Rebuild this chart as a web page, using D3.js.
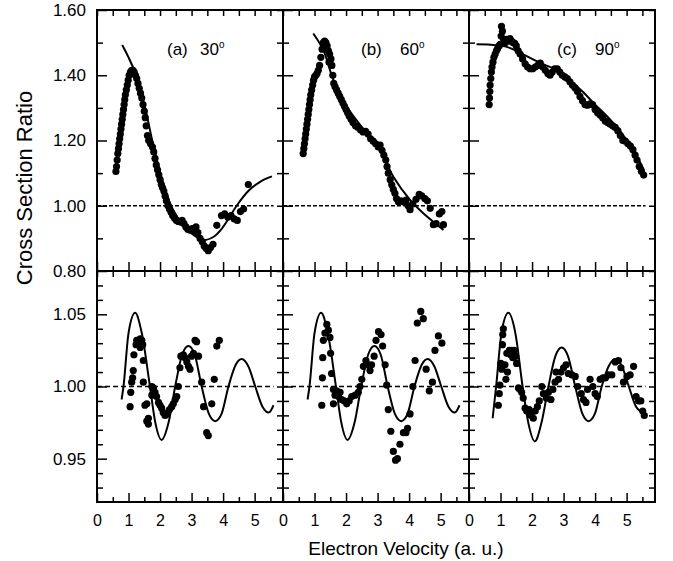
<!DOCTYPE html>
<html>
<head>
<meta charset="utf-8">
<script src="https://d3js.org/d3.v7.min.js"></script>
<style>
  body { margin: 0; background: #fff; }
  svg { display: block; font-family: "Liberation Sans", Arial, Helvetica, sans-serif; }
</style>
</head>
<body>
<div id="chart"></div>
<script>
// ---- DATA ----
const panelNames = ["(a)", "(b)", "(c)"];
const panelAngles = ["30", "60", "90"];

const xTicks = [0, 1, 2, 3, 4, 5];
const xMinorTicks = [0.5, 1.5, 2.5, 3.5, 4.5, 5.5];
const topTicks = [0.80, 1.00, 1.20, 1.40, 1.60];
const topMinorTicks = [0.9, 1.1, 1.3, 1.5];
const bottomTicks = [0.95, 1.00, 1.05];
const bottomMinorTicks = [0.93, 0.94, 0.96, 0.97, 0.98, 0.99, 1.01, 1.02, 1.03, 1.04, 1.06, 1.07];

// top row: measured ratio (dots) and fit (line)
const dotsTopA = [[0.60,1.105],[0.62,1.12],[0.64,1.14],[0.66,1.16],[0.68,1.175],[0.70,1.19],[0.72,1.205],[0.74,1.22],[0.76,1.235],[0.78,1.25],[0.80,1.265],[0.82,1.28],[0.84,1.295],[0.86,1.31],[0.88,1.325],[0.90,1.34],[0.93,1.355],[0.96,1.37],[0.99,1.385],[1.02,1.40],[1.06,1.41],[1.10,1.415],[1.14,1.415],[1.18,1.41],[1.22,1.40],[1.26,1.39],[1.30,1.375],[1.34,1.36],[1.38,1.345],[1.42,1.33],[1.46,1.31],[1.50,1.29],[1.53,1.27],[1.56,1.245],[1.60,1.215],[1.64,1.20],[1.70,1.19],[1.76,1.18],[1.80,1.165],[1.84,1.145],[1.88,1.125],[1.92,1.11],[1.96,1.095],[2.00,1.08],[2.04,1.065],[2.08,1.055],[2.12,1.045],[2.16,1.03],[2.20,1.015],[2.25,1.0],[2.30,0.99],[2.35,0.98],[2.40,0.97],[2.46,0.962],[2.52,0.955],[2.58,0.952],[2.64,0.95],[2.70,0.955],[2.76,0.945],[2.82,0.935],[2.88,0.928],[2.95,0.925],[3.02,0.93],[3.08,0.922],[3.14,0.935],[3.20,0.918],[3.27,0.90],[3.34,0.89],[3.40,0.877],[3.46,0.87],[3.53,0.862],[3.60,0.872],[3.68,0.882],[3.80,0.94],[3.95,0.97],[4.05,0.975],[4.15,0.965],[4.25,0.97],[4.35,0.96],[4.45,0.955],[4.55,0.982],[4.65,0.99],[4.80,1.065]];
const fitTopA = [[0.8,1.493],[1.0,1.455],[1.2,1.41],[1.5,1.31],[1.8,1.18],[2.1,1.07],[2.4,0.99],[2.7,0.945],[3.0,0.915],[3.35,0.895],[3.7,0.905],[4.0,0.935],[4.43,1.0],[4.8,1.045],[5.2,1.075],[5.55,1.09]];

const dotsTopB = [[0.64,1.16],[0.66,1.175],[0.68,1.19],[0.70,1.205],[0.72,1.22],[0.74,1.235],[0.76,1.25],[0.78,1.265],[0.80,1.28],[0.82,1.295],[0.84,1.31],[0.86,1.325],[0.88,1.34],[0.91,1.355],[0.94,1.37],[0.97,1.385],[1.00,1.395],[1.04,1.40],[1.08,1.405],[1.12,1.415],[1.16,1.43],[1.20,1.455],[1.24,1.48],[1.28,1.50],[1.32,1.505],[1.36,1.50],[1.40,1.49],[1.44,1.475],[1.48,1.465],[1.52,1.45],[1.46,1.44],[1.55,1.43],[1.58,1.40],[1.61,1.375],[1.65,1.365],[1.70,1.355],[1.75,1.345],[1.80,1.335],[1.85,1.325],[1.90,1.315],[1.95,1.305],[2.00,1.295],[2.05,1.285],[2.10,1.275],[2.16,1.265],[2.22,1.255],[2.30,1.245],[2.38,1.24],[2.46,1.232],[2.54,1.226],[2.62,1.228],[2.70,1.22],[2.78,1.205],[2.86,1.198],[2.94,1.19],[3.02,1.18],[3.08,1.186],[3.14,1.17],[3.20,1.155],[3.26,1.14],[3.30,1.12],[3.34,1.10],[3.40,1.08],[3.45,1.064],[3.50,1.05],[3.55,1.038],[3.60,1.022],[3.66,1.012],[3.74,1.015],[3.82,1.012],[3.90,1.017],[3.97,1.0],[4.03,0.988],[4.12,1.005],[4.22,1.02],[4.32,1.035],[4.40,1.03],[4.50,1.022],[4.58,1.015],[4.67,0.992],[4.77,0.942],[4.86,0.945],[4.96,0.975],[5.04,0.982],[5.09,0.942]];
const fitTopB = [[0.96,1.528],[1.28,1.477],[1.6,1.385],[2.02,1.304],[2.66,1.222],[3.08,1.171],[3.5,1.089],[4.03,1.018],[4.45,0.977],[5.09,0.926]];

const dotsTopC = [[0.64,1.31],[0.65,1.33],[0.66,1.35],[0.67,1.37],[0.69,1.39],[0.71,1.41],[0.73,1.425],[0.76,1.44],[0.79,1.455],[0.83,1.465],[0.87,1.475],[0.91,1.482],[0.95,1.49],[0.99,1.495],[1.02,1.52],[1.03,1.55],[1.06,1.535],[1.10,1.51],[1.15,1.50],[1.20,1.51],[1.25,1.505],[1.30,1.512],[1.35,1.505],[1.40,1.50],[1.45,1.498],[1.50,1.49],[1.56,1.475],[1.62,1.465],[1.70,1.45],[1.78,1.435],[1.86,1.425],[1.94,1.42],[2.02,1.42],[2.10,1.425],[2.18,1.43],[2.26,1.437],[2.34,1.425],[2.42,1.415],[2.50,1.405],[2.57,1.40],[2.64,1.41],[2.72,1.42],[2.80,1.42],[2.88,1.41],[2.96,1.40],[3.04,1.395],[3.12,1.39],[3.20,1.38],[3.28,1.37],[3.36,1.362],[3.44,1.35],[3.52,1.335],[3.60,1.322],[3.68,1.31],[3.76,1.308],[3.84,1.312],[3.92,1.31],[4.00,1.295],[4.08,1.285],[4.16,1.278],[4.24,1.27],[4.32,1.26],[4.40,1.255],[4.48,1.25],[4.56,1.245],[4.64,1.24],[4.72,1.23],[4.80,1.215],[4.88,1.20],[4.96,1.198],[5.04,1.19],[5.12,1.183],[5.20,1.172],[5.27,1.155],[5.33,1.14],[5.40,1.12],[5.47,1.105],[5.54,1.094]];
const fitTopC = [[0.24,1.495],[0.6,1.494],[1.0,1.49],[1.2,1.487],[1.6,1.47],[2.0,1.45],[2.4,1.432],[2.8,1.415],[3.2,1.385],[3.6,1.35],[4.0,1.31],[4.4,1.272],[4.8,1.228],[5.2,1.172],[5.55,1.11]];

// bottom row: oscillating part (dots) and fit (line)
const dotsBottomA = [[1.05,0.986],[1.07,0.996],[1.10,1.003],[1.13,1.006],[1.15,1.011],[1.17,1.022],[1.24,1.029],[1.26,1.032],[1.31,1.030],[1.37,1.033],[1.42,1.032],[1.37,1.027],[1.45,1.029],[1.47,1.018],[1.47,1.003],[1.58,0.988],[1.52,0.987],[1.63,0.978],[1.58,0.976],[1.63,0.974],[1.74,1.000],[1.79,0.999],[1.74,0.994],[1.84,0.996],[1.89,0.993],[1.95,0.989],[2.00,0.987],[2.05,0.985],[2.10,0.982],[2.16,0.980],[2.23,0.981],[2.30,0.984],[2.37,0.986],[2.42,0.988],[2.48,0.991],[2.53,0.993],[2.58,1.000],[2.63,1.013],[2.66,1.021],[2.74,1.022],[2.79,1.020],[2.85,1.017],[2.90,1.014],[2.95,1.012],[3.00,1.021],[3.06,1.023],[3.11,1.032],[3.16,1.031],[3.22,1.021],[3.32,1.003],[3.38,0.986],[3.48,0.968],[3.53,0.966],[3.64,0.988],[3.72,1.005],[3.80,1.028],[3.88,1.032]];
const dotsBottomB = [[1.23,0.987],[1.25,1.006],[1.26,1.020],[1.28,1.032],[1.33,1.037],[1.39,1.043],[1.44,1.039],[1.49,1.034],[1.51,1.023],[1.54,1.009],[1.60,0.998],[1.65,0.994],[1.60,0.988],[1.70,0.997],[1.76,0.993],[1.81,0.996],[1.86,0.991],[1.94,0.990],[2.02,0.988],[2.10,0.990],[2.18,0.993],[2.29,0.994],[2.39,0.996],[2.44,1.000],[2.50,1.005],[2.55,1.014],[2.63,1.018],[2.71,1.015],[2.76,1.011],[2.81,1.015],[2.89,1.021],[2.95,1.032],[3.03,1.038],[3.11,1.036],[3.16,1.028],[3.24,1.015],[3.29,1.001],[3.34,0.984],[3.42,0.969],[3.50,0.955],[3.57,0.949],[3.63,0.950],[3.71,0.960],[3.82,0.968],[3.90,0.968],[3.95,0.971],[4.03,0.981],[4.12,1.000],[4.19,1.018],[4.26,1.044],[4.37,1.052],[4.45,1.047],[4.54,1.012],[4.64,0.997],[4.74,1.003],[4.82,1.025],[4.93,1.035],[5.04,1.030]];
const dotsBottomC = [[0.93,0.987],[0.96,0.995],[0.98,1.001],[1.04,1.012],[1.01,1.016],[1.06,1.029],[1.07,1.036],[1.09,1.040],[1.14,1.015],[1.20,1.023],[1.22,1.010],[1.17,1.005],[1.28,1.025],[1.32,1.022],[1.39,1.020],[1.43,1.025],[1.48,1.021],[1.51,1.016],[1.35,1.025],[1.57,0.999],[1.62,0.998],[1.67,0.996],[1.72,0.992],[1.78,0.985],[1.83,0.983],[1.91,0.984],[1.97,0.980],[2.04,0.978],[2.10,0.983],[2.17,0.986],[2.23,0.990],[2.31,1.000],[2.36,0.995],[2.45,0.992],[2.52,0.996],[2.60,0.991],[2.66,0.998],[2.73,1.003],[2.76,1.010],[2.84,1.005],[2.92,1.010],[3.00,1.013],[3.08,1.015],[3.15,1.009],[3.26,1.008],[3.37,1.007],[3.45,1.000],[3.56,0.995],[3.63,0.991],[3.71,0.989],[3.76,0.998],[3.84,1.005],[3.93,1.000],[4.00,0.995],[4.07,0.993],[4.16,1.005],[4.25,1.006],[4.33,1.006],[4.42,1.008],[4.53,1.008],[4.64,1.017],[4.74,1.018],[4.82,1.013],[4.90,1.003],[5.01,1.007],[5.11,1.008],[5.22,1.014],[5.30,0.993],[5.38,0.990],[5.45,0.990],[5.51,0.983],[5.56,0.980]];
const fitBottomAB = [[0.78,0.991],[0.84,1.0],[1.0,1.037],[1.21,1.051],[1.42,1.037],[1.68,1.0],[1.85,0.975],[2.05,0.963],[2.27,0.975],[2.48,1.0],[2.7,1.022],[2.9,1.028],[3.1,1.022],[3.32,1.0],[3.55,0.981],[3.75,0.976],[3.95,0.981],[4.17,1.0],[4.4,1.015],[4.59,1.019],[4.8,1.014],[5.02,1.0],[5.25,0.986],[5.45,0.982],[5.6,0.987]];
const fitBottomC = [[0.75,0.978],[0.86,1.0],[1.03,1.037],[1.25,1.051],[1.47,1.037],[1.7,1.0],[1.88,0.975],[2.09,0.962],[2.3,0.975],[2.52,1.0],[2.74,1.021],[2.94,1.027],[3.14,1.021],[3.37,1.0],[3.6,0.981],[3.79,0.976],[3.99,0.981],[4.21,1.0],[4.43,1.014],[4.64,1.019],[4.85,1.014],[5.07,1.0],[5.3,0.986],[5.59,0.981]];

const refLine = [[0, 1.0], [5.6, 1.0]]; // dashed reference at ratio = 1

// ---- LAYOUT ----
const width = 673, height = 561;
const panelLeft = [97, 283, 469];
const panelWidth = 186;
const topY = [10, 271];
const bottomY = [271, 502];

const svg = d3.select("#chart").append("svg")
    .attr("width", width)
    .attr("height", height);

const yTop = d3.scaleLinear().domain([0.8, 1.6]).range([topY[1], topY[0]]);
const yBottom = d3.scaleLinear().domain([0.92, 1.08]).range([bottomY[1], bottomY[0]]);

const topDots = [dotsTopA, dotsTopB, dotsTopC];
const topFits = [fitTopA, fitTopB, fitTopC];
const bottomDots = [dotsBottomA, dotsBottomB, dotsBottomC];
const bottomFits = [fitBottomAB, fitBottomAB, fitBottomC];

function styleTicks(g, fontSize) {
    g.select(".domain").remove();
    g.selectAll(".tick line").attr("stroke", "#000").attr("stroke-width", 1.5);
    g.selectAll(".tick text").attr("fill", "#000");
    g.attr("font-family", null).attr("font-size", fontSize);
}

function drawPanel(i, y, yRange, yMajor, yMinor, dots, fit, fitCurve, isBottom) {
    const left = panelLeft[i];
    const x = d3.scaleLinear().domain([0, 5.9]).range([left, left + panelWidth]);
    const g = svg.append("g");

    // dashed line at 1.00
    g.append("path")
        .attr("d", d3.line().x(d => x(d[0])).y(d => y(d[1]))(refLine))
        .attr("fill", "none")
        .attr("stroke", "#000")
        .attr("stroke-width", isBottom ? 1.6 : 1.3)
        .attr("stroke-dasharray", isBottom ? "5,3" : "4,2");

    // fit curve
    g.append("path")
        .attr("d", d3.line().x(d => x(d[0])).y(d => y(d[1])).curve(fitCurve)(fit))
        .attr("fill", "none")
        .attr("stroke", "#000")
        .attr("stroke-width", 2);

    // data points
    g.append("g").selectAll("circle")
        .data(dots)
        .enter().append("circle")
        .attr("cx", d => x(d[0]))
        .attr("cy", d => y(d[1]))
        .attr("r", 3.6)
        .attr("fill", "#000");

    // x ticks, bottom + top, pointing inward
    g.append("g").attr("transform", `translate(0,${yRange[1]})`)
        .call(d3.axisBottom(x).tickValues(xTicks).tickSize(-9).tickPadding(13)
            .tickFormat(isBottom ? d3.format("d") : ""))
        .call(s => styleTicks(s, 16));
    g.append("g").attr("transform", `translate(0,${yRange[1]})`)
        .call(d3.axisBottom(x).tickValues(xMinorTicks).tickSize(-5).tickFormat(""))
        .call(s => styleTicks(s, 16));
    g.append("g").attr("transform", `translate(0,${yRange[0]})`)
        .call(d3.axisTop(x).tickValues(xTicks.concat(xMinorTicks)).tickSize(-6).tickFormat(""))
        .call(s => styleTicks(s, 16));

    // y ticks, left (labels on first panel only) + right
    g.append("g").attr("transform", `translate(${left},0)`)
        .call(d3.axisLeft(y).tickValues(yMajor).tickSize(-10).tickPadding(11)
            .tickFormat(i === 0 ? d3.format(".2f") : ""))
        .call(s => styleTicks(s, 17));
    g.append("g").attr("transform", `translate(${left},0)`)
        .call(d3.axisLeft(y).tickValues(yMinor).tickSize(-6).tickFormat(""))
        .call(s => styleTicks(s, 17));
    g.append("g").attr("transform", `translate(${left + panelWidth},0)`)
        .call(d3.axisRight(y).tickValues(yMajor.concat(yMinor)).tickSize(-6).tickFormat(""))
        .call(s => styleTicks(s, 17));

    // frame
    g.append("rect")
        .attr("x", left).attr("y", yRange[0])
        .attr("width", panelWidth).attr("height", yRange[1] - yRange[0])
        .attr("fill", "none")
        .attr("stroke", "#000")
        .attr("stroke-width", 2);
}

// the 0.80 label belongs to the top row, so draw bottom row first
for (let i = 0; i < 3; i++) {
    drawPanel(i, yBottom, bottomY, bottomTicks, bottomMinorTicks, bottomDots[i], bottomFits[i], d3.curveMonotoneX, true);
}
for (let i = 0; i < 3; i++) {
    drawPanel(i, yTop, topY, topTicks, topMinorTicks, topDots[i], topFits[i], d3.curveCatmullRom, false);
}

// panel titles "(a) 30°" etc.
const titleX = [[167, 200], [361, 400], [557, 595]];
panelNames.forEach((name, i) => {
    svg.append("text").attr("x", titleX[i][0]).attr("y", 55)
        .attr("font-size", 17).text(name);
    const num = svg.append("text").attr("x", titleX[i][1]).attr("y", 55)
        .attr("font-size", 17);
    num.append("tspan").text(panelAngles[i]);
    num.append("tspan").attr("font-size", 10).attr("dy", -7).text("o");
});

// axis titles
svg.append("text")
    .attr("transform", "translate(32,188) rotate(-90)")
    .attr("text-anchor", "middle")
    .attr("font-size", 22)
    .text("Cross Section Ratio");

svg.append("text")
    .attr("x", 406)
    .attr("y", 555)
    .attr("text-anchor", "middle")
    .attr("font-size", 19)
    .text("Electron Velocity (a. u.)");
</script>
</body>
</html>
